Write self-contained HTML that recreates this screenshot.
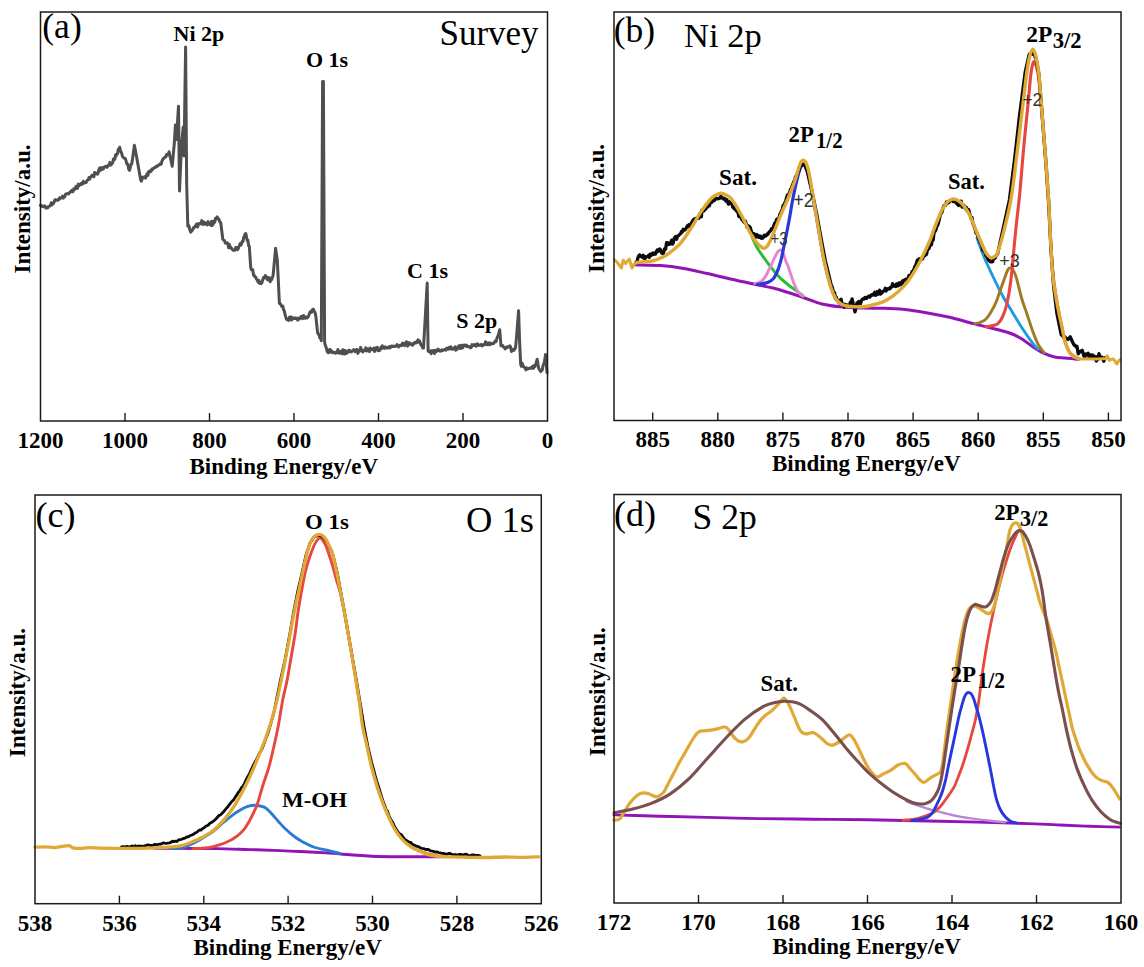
<!DOCTYPE html>
<html><head><meta charset="utf-8"><style>
html,body{margin:0;padding:0;background:#fff;}
svg{display:block;}
</style></head><body>
<svg width="1144" height="967" viewBox="0 0 1144 967">
<rect width="1144" height="967" fill="#fff"/>
<polyline points="40.5,205.3 41.2,205.4 41.9,206.5 42.6,206.1 43.3,206.3 44.0,207.0 44.7,205.9 45.5,206.7 46.2,208.1 46.9,207.3 47.7,207.9 48.4,206.7 49.1,206.4 49.8,206.1 50.5,205.3 51.2,202.8 51.9,205.0 52.6,204.1 53.3,203.6 54.0,202.5 54.7,200.1 55.4,199.6 56.1,200.1 56.8,200.0 57.5,200.4 58.2,199.5 58.9,199.6 59.6,197.9 60.3,198.4 61.0,197.6 61.8,197.6 62.5,196.0 63.3,198.2 64.0,196.5 64.8,196.8 65.5,194.3 66.3,193.8 67.0,193.8 67.8,193.6 68.5,194.0 69.3,193.1 70.0,191.9 70.8,192.0 71.5,190.4 72.3,190.3 73.0,191.6 73.8,188.8 74.5,189.4 75.3,189.0 76.0,186.4 76.8,187.5 77.5,188.3 78.3,184.1 79.0,185.7 79.7,184.9 80.4,184.6 81.2,183.4 81.9,184.3 82.6,183.3 83.3,181.2 84.0,183.3 84.7,182.6 85.4,182.5 86.2,182.5 86.9,180.9 87.6,180.0 88.3,179.6 89.0,177.5 89.7,179.1 90.4,177.3 91.1,176.9 91.8,175.5 92.5,175.3 93.2,175.3 93.9,176.8 94.6,172.6 95.3,172.7 96.0,173.8 96.8,173.4 97.5,174.1 98.3,172.6 99.0,169.2 99.8,167.9 100.5,170.4 101.3,168.6 102.0,167.6 102.8,169.2 103.5,168.7 104.3,166.9 105.0,166.7 105.7,166.5 106.4,166.3 107.1,167.3 107.8,165.8 108.5,165.4 109.2,165.1 109.9,162.4 110.6,165.2 111.3,164.5 112.0,163.6 112.7,162.7 113.4,159.1 114.1,159.2 114.8,159.4 115.5,155.1 116.2,155.7 116.9,153.8 117.6,153.5 118.3,149.2 119.0,150.8 119.7,147.3 120.6,150.9 121.6,153.2 122.5,156.4 123.4,157.5 124.4,158.5 125.3,158.5 126.0,160.6 126.7,163.7 127.4,163.7 128.1,165.9 128.8,169.5 129.5,170.3 130.2,167.9 130.9,164.5 131.6,164.1 132.3,160.6 134.4,145.2 136.5,156.4 140.7,180.1 141.4,181.2 142.1,178.6 142.8,177.0 143.5,177.9 144.2,177.4 144.9,176.7 145.6,178.1 146.3,176.0 147.1,173.9 147.9,175.4 148.7,171.6 149.5,171.1 150.3,171.7 151.1,171.2 151.9,169.0 152.6,169.5 153.3,168.5 154.0,167.9 154.7,167.5 155.4,167.5 156.1,166.3 156.8,166.4 157.5,166.3 158.2,165.2 158.9,164.8 159.7,164.7 160.4,163.5 161.2,164.1 161.9,161.3 162.7,159.5 163.5,158.5 164.2,158.0 165.0,157.0 165.8,157.0 166.6,154.5 167.5,154.3 168.3,154.9 169.1,151.8 172.2,166.3 174.3,143.5 175.4,124.9 176.4,139.4 178.5,106.3 179.5,191.1 181.6,143.5 183.2,127.0 184.0,156.0 185.6,47.0 186.7,185.0 187.8,226.3 188.7,225.4 189.7,229.0 190.6,232.2 191.4,231.4 192.2,230.4 193.0,229.2 193.8,227.3 194.6,227.4 195.4,225.9 196.2,224.5 196.9,223.8 197.6,227.0 198.3,224.6 199.0,223.5 199.7,223.9 200.4,223.6 201.1,223.7 201.8,220.6 202.5,223.0 203.2,224.5 203.9,222.0 204.6,223.1 205.3,224.2 206.0,223.0 206.7,224.1 207.4,224.9 208.1,221.6 208.8,223.2 209.5,223.4 210.2,224.6 210.9,225.3 211.6,221.2 212.3,225.5 213.0,224.5 213.8,221.4 214.7,222.2 215.5,218.2 216.4,218.5 217.2,216.8 217.9,219.2 218.6,218.9 219.3,220.4 220.0,222.2 220.7,222.4 222.8,239.2 223.6,240.1 224.5,240.5 225.3,243.0 226.2,243.2 227.0,242.7 227.8,243.4 228.6,247.7 229.4,244.4 230.2,247.7 231.0,247.4 231.8,248.8 232.6,249.7 233.4,250.4 234.2,249.7 235.0,250.1 235.7,247.6 236.5,247.5 237.3,249.8 238.1,249.0 238.8,246.7 239.5,245.3 240.2,243.5 240.9,245.3 241.6,243.4 242.3,241.3 243.0,241.4 243.7,237.2 244.4,236.7 245.1,233.9 245.8,233.6 246.5,237.0 247.2,240.4 247.9,240.2 248.6,245.4 249.3,246.2 250.7,267.1 251.4,269.8 252.1,270.2 252.8,269.8 253.5,275.2 254.2,275.2 254.9,276.9 255.7,277.1 256.5,279.1 257.3,280.1 258.1,282.1 258.9,280.3 259.7,283.5 260.5,283.2 261.3,283.6 262.1,282.2 262.9,279.2 263.8,277.2 264.6,277.9 265.4,275.5 266.1,276.5 266.8,277.4 267.5,279.8 268.2,278.8 268.9,277.5 269.6,280.5 270.3,281.8 271.0,278.2 271.7,279.6 272.4,277.4 273.1,275.5 275.6,248.3 277.3,260.1 279.4,303.5 280.1,303.4 280.8,304.6 281.5,306.1 282.2,305.8 282.9,306.3 283.6,310.0 284.3,310.7 285.0,314.1 285.7,316.8 286.4,319.2 287.1,319.6 287.9,318.8 288.6,320.4 289.4,317.2 290.1,318.0 290.9,316.9 291.6,320.1 292.4,317.5 293.1,318.7 293.9,318.4 294.6,318.5 295.4,317.8 296.1,318.6 296.9,318.2 297.6,320.1 298.4,318.1 299.1,318.5 299.9,318.9 300.6,317.5 301.3,316.3 302.1,316.9 302.8,318.6 303.6,315.5 304.3,316.6 305.0,318.3 305.8,318.0 306.5,317.0 307.3,317.8 308.0,316.8 308.7,315.9 309.4,313.3 310.1,311.8 310.9,311.7 311.6,312.3 312.3,309.6 313.0,309.1 313.7,309.8 314.4,311.7 315.1,312.6 315.8,316.0 317.6,332.7 318.3,334.2 319.1,334.6 319.8,337.9 320.6,336.5 321.3,340.7 322.6,81.5 323.4,81.5 324.6,342.3 325.5,345.9 326.4,348.1 327.3,352.0 328.0,349.9 328.7,352.8 329.4,351.7 330.1,349.5 330.8,351.0 331.5,352.3 332.2,351.4 332.9,352.8 333.6,352.7 334.4,352.6 335.1,352.2 335.8,353.3 336.5,352.6 337.2,352.3 337.9,349.5 338.6,352.8 339.3,353.3 340.0,351.8 340.7,351.4 341.4,351.2 342.1,353.8 342.9,349.7 343.6,352.0 344.3,354.1 345.0,350.4 345.7,352.1 346.4,353.4 347.1,351.1 347.9,351.8 348.6,352.1 349.3,350.1 350.0,351.0 350.7,351.3 351.4,351.9 352.1,350.9 352.9,350.6 353.6,349.7 354.3,350.3 355.0,351.7 355.7,350.7 356.4,349.6 357.1,349.6 357.9,353.4 358.6,351.7 359.3,351.1 360.0,350.3 360.7,347.4 361.5,350.9 362.2,350.7 362.9,351.9 363.6,350.5 364.4,349.9 365.1,350.5 365.8,347.7 366.5,350.9 367.3,350.1 368.0,348.9 368.7,351.1 369.4,351.6 370.2,348.0 370.9,348.7 371.6,349.7 372.3,349.5 373.1,348.8 373.8,348.2 374.5,351.5 375.2,350.3 376.0,347.7 376.7,349.0 377.4,347.4 378.1,350.7 378.8,349.8 379.5,350.6 380.2,349.4 380.9,347.4 381.6,348.5 382.3,345.8 383.0,347.2 383.7,347.9 384.4,348.4 385.1,346.9 385.8,347.5 386.5,348.0 387.2,347.8 387.9,348.0 388.6,347.4 389.4,346.7 390.1,347.9 390.8,346.9 391.5,345.9 392.2,346.0 392.9,346.6 393.6,346.3 394.3,346.5 395.0,346.2 395.7,346.3 396.4,345.9 397.1,344.5 397.8,346.3 398.5,346.9 399.2,346.1 399.9,345.3 400.6,345.4 401.3,345.8 402.0,344.1 402.7,343.0 403.4,345.0 404.2,343.8 404.9,345.6 405.6,343.5 406.3,341.7 407.0,343.3 407.7,346.1 408.4,343.8 409.1,342.6 409.8,343.2 410.6,344.5 411.3,344.4 412.0,343.9 412.7,345.2 413.4,343.5 414.2,343.7 414.9,342.2 415.7,342.3 416.5,342.9 417.2,341.5 418.0,339.8 418.8,342.1 419.6,341.0 420.4,343.2 421.1,345.3 421.9,345.4 422.7,348.1 423.5,348.1 427.2,283.0 428.1,350.9 428.8,351.6 429.6,351.9 430.3,350.7 431.1,353.7 431.8,350.9 432.5,352.2 433.2,350.5 433.9,350.8 434.6,353.5 435.3,350.2 436.0,351.4 436.7,351.5 437.4,350.3 438.1,349.0 438.8,350.4 439.5,350.5 440.2,351.3 441.0,350.8 441.7,349.9 442.4,350.7 443.1,350.3 443.8,349.9 444.5,349.6 445.2,349.2 445.9,350.2 446.6,348.2 447.3,348.6 448.0,349.2 448.7,347.5 449.4,348.6 450.1,349.0 450.8,346.7 451.5,348.0 452.2,349.3 452.9,349.2 453.6,348.4 454.3,348.1 455.1,346.7 455.8,350.2 456.5,348.6 457.2,349.2 457.9,346.9 458.6,347.6 459.3,345.6 460.0,348.4 460.7,348.5 461.4,345.3 462.1,347.2 462.8,347.8 463.5,345.1 464.3,344.9 465.0,345.6 465.7,346.0 466.4,345.1 467.1,346.5 467.8,346.7 468.5,346.3 469.2,346.9 469.9,346.9 470.6,347.8 471.3,347.3 472.0,344.6 472.8,345.4 473.5,344.7 474.2,344.6 474.9,345.7 475.6,345.7 476.3,346.2 477.0,343.8 477.7,344.1 478.4,345.4 479.1,345.2 479.9,345.0 480.6,345.2 481.3,344.4 482.0,345.9 482.7,345.5 483.4,344.9 484.1,344.2 484.8,344.7 485.5,341.8 486.2,343.7 487.0,344.7 487.7,343.0 488.4,344.8 489.1,344.7 489.8,342.9 490.5,344.4 491.3,343.7 492.1,343.3 492.9,343.7 493.6,343.5 494.4,342.4 495.2,341.1 496.0,341.7 496.7,339.1 497.5,336.8 498.2,335.3 499.0,332.4 499.7,329.7 501.0,345.8 501.8,345.6 502.7,345.6 503.5,347.2 504.4,347.5 505.2,348.9 506.0,347.2 506.7,347.7 507.5,346.8 508.3,346.9 509.0,346.9 509.8,345.8 510.7,346.9 511.5,351.4 512.4,350.4 513.2,349.4 514.0,350.4 514.7,348.7 515.5,347.9 516.5,337.5 518.6,310.7 519.6,341.7 520.7,364.4 521.5,366.3 522.2,363.1 523.0,365.5 523.8,367.0 524.5,367.4 525.2,367.9 526.0,369.9 526.7,367.8 527.4,368.9 528.1,368.4 528.8,368.7 529.6,368.4 530.3,367.7 531.0,368.0 531.8,368.2 532.6,366.2 533.5,368.3 534.3,365.6 535.1,366.4 537.2,359.2 538.7,368.5 540.8,371.6 541.5,370.0 542.2,370.2 543.0,365.8 543.7,364.2 544.4,362.3 545.5,354.6 547.0,372.6" fill="none" stroke="#4f4f4f" stroke-width="3.0" stroke-linejoin="round" stroke-linecap="round" />
<path d="M634.2,264.7 C638.6,264.9 652.3,265.0 660.6,265.6 C668.9,266.2 676.0,267.2 683.8,268.5 C691.5,269.8 699.3,271.8 707.1,273.5 C714.9,275.2 722.6,277.2 730.4,279.0 C738.2,280.8 746.4,282.4 753.7,284.0 C761.0,285.6 766.1,286.2 774.0,288.3 C781.9,290.4 793.3,294.1 801.3,296.7 C809.3,299.3 815.1,302.3 822.0,304.0 C828.9,305.7 835.8,306.4 842.7,307.1 C849.6,307.8 856.5,307.9 863.4,308.1 C870.3,308.3 877.1,308.1 884.0,308.3 C890.9,308.5 897.9,308.8 904.7,309.5 C911.5,310.2 917.3,311.1 924.8,312.4 C932.3,313.7 941.3,315.4 949.6,317.3 C957.9,319.2 966.1,321.7 974.5,323.9 C982.9,326.1 993.9,328.7 1000.0,330.3 C1006.1,331.9 1007.2,332.1 1010.9,333.5 C1014.5,334.9 1018.2,336.8 1021.9,339.0 C1025.5,341.2 1029.2,344.3 1032.8,346.7 C1036.4,349.1 1040.1,351.5 1043.7,353.2 C1047.3,354.9 1050.9,356.2 1054.6,357.0 C1058.2,357.8 1061.6,357.7 1065.6,358.1 C1069.6,358.5 1076.5,359.0 1078.7,359.2" fill="none" stroke="#9314B6" stroke-width="3.0" stroke-linejoin="round" stroke-linecap="round" />
<path d="M752.0,237.0 C752.8,238.8 755.1,244.2 757.0,247.5 C758.9,250.8 761.1,253.7 763.1,256.6 C765.1,259.5 767.2,262.3 769.3,265.0 C771.4,267.7 773.7,270.9 775.5,273.0 C777.3,275.1 778.5,276.3 780.0,277.8 C781.5,279.3 783.2,280.7 784.8,282.0 C786.4,283.3 787.4,284.2 789.5,285.8 C791.6,287.4 795.0,289.8 797.2,291.4 C799.5,293.0 802.0,294.9 803.0,295.6" fill="none" stroke="#22C032" stroke-width="2.9" stroke-linejoin="round" stroke-linecap="round" />
<path d="M755.0,283.6 C755.6,283.4 757.4,282.9 758.5,282.5 C759.6,282.1 760.7,282.1 761.6,281.4 C762.5,280.7 763.2,279.5 764.0,278.5 C764.8,277.5 765.5,276.5 766.2,275.2 C767.0,273.9 767.7,272.1 768.5,270.5 C769.3,268.9 770.1,267.6 770.9,265.9 C771.7,264.2 772.4,262.2 773.2,260.5 C774.0,258.8 774.7,257.4 775.5,255.9 C776.3,254.4 777.1,252.5 778.0,251.5 C778.9,250.5 779.9,249.8 780.7,250.0 C781.5,250.2 782.4,251.5 783.0,252.5 C783.6,253.5 783.7,254.5 784.2,256.0 C784.7,257.5 785.4,259.9 786.0,261.5 C786.6,263.1 787.3,264.1 788.0,265.9 C788.7,267.6 789.1,269.4 790.0,272.0 C790.9,274.6 792.1,278.5 793.1,281.2 C794.1,283.9 795.0,285.9 796.0,288.0 C797.0,290.1 798.1,292.3 799.3,293.6 C800.5,294.9 802.4,295.6 803.0,296.0" fill="none" stroke="#E884C8" stroke-width="2.9" stroke-linejoin="round" stroke-linecap="round" />
<path d="M757.0,284.5 C758.0,284.4 761.4,283.9 763.1,283.6 C764.9,283.3 766.2,283.0 767.5,282.5 C768.8,282.0 769.9,281.5 770.9,280.8 C771.9,280.1 772.7,279.4 773.5,278.5 C774.3,277.6 774.8,276.4 775.5,275.2 C776.2,273.9 776.9,272.6 777.5,271.0 C778.1,269.4 778.6,268.1 779.3,265.9 C780.0,263.7 780.6,262.0 781.5,258.0 C782.4,254.0 783.5,248.3 784.8,242.0 C786.1,235.7 787.8,227.4 789.1,220.2 C790.5,212.9 791.6,205.0 792.9,198.5 C794.2,192.0 795.5,185.9 796.7,181.0 C797.9,176.1 799.0,171.7 800.0,169.0 C801.0,166.3 801.9,165.1 802.7,164.6 C803.5,164.1 804.2,164.9 804.9,166.0 C805.6,167.1 806.3,169.2 807.0,171.0 C807.7,172.8 808.2,173.8 809.0,177.0 C809.8,180.2 810.4,184.0 811.5,190.0 C812.6,196.0 814.4,205.0 815.8,213.0 C817.2,221.0 818.6,230.2 820.0,238.0 C821.4,245.8 822.3,252.3 824.0,260.0 C825.7,267.7 828.0,277.5 830.0,284.0 C832.0,290.5 834.0,295.4 836.0,299.0 C838.0,302.6 841.0,304.4 842.0,305.5" fill="none" stroke="#2838E0" stroke-width="3.2" stroke-linejoin="round" stroke-linecap="round" />
<path d="M977.0,238.0 C978.2,241.3 981.8,251.5 984.4,257.8 C987.0,264.1 989.7,269.7 992.7,276.0 C995.7,282.3 999.3,289.7 1002.6,295.8 C1005.9,301.9 1009.2,306.9 1012.5,312.4 C1015.8,317.8 1019.0,323.3 1022.4,328.5 C1025.8,333.7 1030.2,340.0 1032.8,343.4 C1035.4,346.8 1037.1,348.1 1038.0,349.0" fill="none" stroke="#1E9BE0" stroke-width="2.9" stroke-linejoin="round" stroke-linecap="round" />
<path d="M975.0,323.6 C975.8,323.4 978.2,323.3 980.0,322.5 C981.8,321.7 984.2,320.8 986.0,319.0 C987.8,317.2 989.3,314.8 991.0,312.0 C992.7,309.2 994.5,305.9 996.0,302.4 C997.5,298.9 998.6,294.9 1000.0,291.0 C1001.4,287.1 1003.0,282.7 1004.2,279.3 C1005.5,275.9 1006.5,272.4 1007.5,270.5 C1008.5,268.6 1009.2,267.9 1010.0,267.7 C1010.8,267.4 1011.5,267.6 1012.5,269.0 C1013.5,270.4 1014.7,272.8 1015.8,276.0 C1016.9,279.2 1017.9,283.9 1019.0,288.0 C1020.1,292.1 1021.0,296.3 1022.4,300.8 C1023.8,305.3 1025.6,309.9 1027.3,315.0 C1029.0,320.1 1031.0,326.5 1032.8,331.4 C1034.6,336.3 1036.3,341.0 1038.2,344.5 C1040.1,348.0 1043.0,351.2 1044.0,352.5" fill="none" stroke="#A07A22" stroke-width="2.9" stroke-linejoin="round" stroke-linecap="round" />
<path d="M986.0,326.8 C987.2,326.6 991.1,326.0 993.0,325.5 C994.9,325.0 996.1,325.1 997.6,323.8 C999.1,322.6 1000.5,321.1 1002.0,318.0 C1003.5,314.9 1005.1,311.3 1006.6,305.0 C1008.1,298.7 1009.4,292.6 1010.9,280.0 C1012.4,267.4 1014.3,243.8 1015.8,229.6 C1017.2,215.4 1018.2,209.2 1019.6,195.0 C1021.0,180.8 1022.5,160.1 1024.0,144.3 C1025.5,128.5 1027.2,112.2 1028.4,100.3 C1029.6,88.4 1030.1,79.4 1031.0,73.0 C1031.9,66.6 1032.7,63.2 1033.6,62.0 C1034.5,60.8 1035.3,63.0 1036.2,66.0 C1037.1,69.0 1037.9,71.0 1038.9,80.0 C1039.9,89.0 1041.2,105.8 1042.4,120.0 C1043.6,134.2 1044.8,149.7 1045.9,165.0 C1047.0,180.3 1047.9,194.5 1049.0,212.0 C1050.1,229.5 1051.3,255.3 1052.6,270.0 C1053.9,284.7 1055.2,291.2 1056.6,300.0 C1058.0,308.8 1059.5,316.0 1061.0,323.0 C1062.5,330.0 1063.7,336.9 1065.3,342.0 C1066.9,347.1 1068.4,350.8 1070.5,353.5 C1072.6,356.2 1076.8,357.7 1078.0,358.5" fill="none" stroke="#E8473F" stroke-width="3.1" stroke-linejoin="round" stroke-linecap="round" />
<polyline points="636.2,262.0 637.1,261.4 637.9,257.8 638.8,255.7 639.7,254.8 640.6,256.3 641.4,256.8 642.3,257.1 643.2,255.3 644.1,258.7 644.9,258.7 645.8,256.7 646.7,256.8 647.6,256.7 648.5,255.4 649.3,257.4 650.2,254.2 651.1,255.6 652.0,253.7 652.8,253.0 653.7,254.4 654.6,253.1 655.5,254.1 656.3,251.7 657.2,250.1 658.1,251.4 658.9,249.5 659.8,248.9 660.7,250.4 661.6,253.0 662.6,253.5 663.5,253.1 664.5,248.9 665.6,249.1 666.6,242.6 667.5,243.0 668.3,244.4 669.1,243.0 670.0,244.2 670.8,243.3 671.6,240.3 672.5,244.1 673.3,242.7 674.1,238.5 674.9,237.4 675.8,236.4 676.6,239.2 677.4,236.3 678.2,236.0 679.1,234.8 679.9,234.3 680.7,233.6 681.5,231.4 682.3,232.0 683.2,229.3 684.0,230.2 684.8,229.9 685.6,229.3 686.5,227.6 687.3,225.9 688.1,226.4 688.9,224.8 689.8,226.6 690.6,224.8 691.4,222.8 692.2,221.5 693.1,220.4 693.9,219.3 694.7,219.7 695.5,218.4 696.4,218.4 697.2,217.9 698.0,217.1 698.8,218.3 699.7,213.8 700.5,213.9 701.3,216.7 702.1,209.8 703.0,210.7 703.8,210.8 704.6,209.9 705.4,209.4 706.3,207.7 707.1,207.2 707.9,206.8 708.7,205.6 709.5,205.7 710.3,201.4 711.1,201.9 712.0,202.2 712.8,200.0 713.6,199.2 714.4,200.5 715.2,198.0 716.0,198.0 716.8,198.8 717.6,198.9 718.5,198.4 719.3,198.6 720.1,197.8 721.0,196.1 721.8,197.9 722.6,197.9 723.4,199.1 724.3,198.3 725.1,199.5 726.0,201.1 726.8,199.6 727.7,202.1 728.5,204.3 729.4,201.7 730.2,203.2 731.1,203.3 731.9,204.1 732.8,207.4 733.6,207.1 734.5,209.1 735.3,208.3 736.2,210.4 737.0,211.7 737.9,210.7 738.7,216.2 739.6,216.7 740.4,214.6 741.3,218.1 742.1,220.1 743.0,220.0 743.8,221.8 744.6,222.7 745.4,221.3 746.3,224.0 747.1,227.3 747.9,225.6 748.7,226.1 749.6,226.7 750.4,227.9 751.2,230.9 752.0,233.7 752.9,233.1 753.7,233.6 754.6,234.4 755.4,237.5 756.3,234.5 757.1,234.8 758.0,236.9 758.8,237.4 759.7,235.9 760.5,236.3 761.4,238.3 762.3,238.2 763.2,237.7 764.2,235.2 765.1,236.2 766.0,236.0 766.9,234.2 767.9,234.4 768.8,232.5 769.8,231.5 770.7,230.5 771.5,228.7 772.4,229.1 773.2,228.2 774.0,225.0 774.8,223.0 775.7,223.1 776.5,219.5 777.4,219.1 778.2,218.5 779.0,218.0 779.9,214.0 780.7,213.0 781.5,211.0 782.3,209.5 783.2,205.4 784.0,205.4 784.8,202.6 785.6,202.1 786.4,198.2 787.3,195.2 788.1,195.9 788.9,194.0 789.7,192.3 790.5,189.3 791.4,189.2 792.2,185.6 793.0,184.0 793.8,181.5 794.6,181.1 795.5,176.7 796.3,177.0 797.2,173.6 798.0,172.0 798.9,170.6 799.8,167.0 800.7,165.8 801.6,165.4 802.5,164.0 804.8,165.0 807.0,170.0 809.2,180.0 811.7,190.0 816.5,213.0 821.0,237.8 825.3,260.6 831.3,285.4 832.1,286.6 832.9,289.9 833.7,293.7 834.6,292.7 835.4,298.8 836.2,296.9 837.0,299.8 837.8,300.3 838.6,300.9 839.5,302.4 840.3,299.9 841.1,299.2 841.9,303.2 842.7,303.9 843.5,304.1 844.3,307.1 845.2,304.4 846.0,304.9 846.8,305.0 847.7,305.9 848.6,304.9 849.5,306.3 850.3,302.2 851.2,303.1 852.1,298.8 853.0,303.0 855.0,312.0 857.0,302.9 857.9,303.5 858.8,301.4 859.6,302.6 860.5,303.8 861.4,300.5 862.2,299.6 863.1,298.8 864.0,299.0 864.8,297.5 865.7,297.3 866.5,298.5 867.4,297.2 868.2,296.8 869.0,296.1 869.9,297.0 870.7,296.0 871.6,294.8 872.4,294.5 873.2,295.1 874.0,293.8 874.8,292.3 875.6,295.4 876.4,293.9 877.2,291.8 878.1,294.2 878.9,293.0 879.7,290.3 880.5,294.2 881.3,292.3 882.1,292.8 882.9,291.4 883.7,291.2 884.5,290.4 885.3,288.2 886.1,291.0 886.9,289.4 887.7,288.6 888.6,289.0 889.4,288.2 890.2,288.6 891.0,286.8 891.8,286.9 892.6,283.7 893.4,286.1 894.2,285.1 895.0,286.2 895.8,286.6 896.6,284.0 897.4,283.9 898.2,285.8 899.1,282.9 899.9,283.9 900.7,284.7 901.5,282.2 902.3,283.3 903.1,280.4 903.9,280.9 904.7,280.5 905.5,279.4 906.4,278.9 907.2,279.6 908.0,280.5 908.8,275.8 909.7,275.3 910.5,275.9 911.3,274.6 912.2,271.3 913.0,271.4 913.9,269.5 914.8,266.5 915.6,265.6 916.5,263.0 917.3,260.3 918.2,262.5 919.0,258.8 919.9,259.2 920.7,258.6 921.5,258.1 922.4,259.0 923.2,257.3 924.1,255.9 924.9,255.7 925.7,254.7 926.5,254.3 927.3,250.5 928.1,249.2 929.0,248.6 929.8,245.6 930.6,241.8 931.4,245.0 932.2,240.0 933.2,240.1 934.1,231.8 935.1,231.5 936.0,229.3 937.0,226.0 937.9,224.7 938.7,221.7 939.6,217.9 940.4,214.3 941.3,213.3 942.1,211.9 943.0,208.0 943.9,205.7 944.8,204.9 945.6,205.3 946.5,202.0 947.4,203.3 948.2,202.2 949.1,202.5 950.0,201.0 950.8,200.3 951.7,200.2 952.5,201.0 953.3,201.6 954.2,201.0 955.0,202.0 955.9,202.3 956.8,203.6 957.6,204.5 958.5,205.5 959.4,202.6 960.3,203.5 961.1,201.1 962.0,207.1 962.9,205.0 963.7,205.1 964.5,207.0 965.4,208.7 966.2,207.2 967.0,210.6 967.9,211.0 968.7,209.6 969.5,213.0 970.3,215.7 971.2,219.2 972.0,217.5 972.8,223.2 973.6,224.8 974.5,227.4 975.3,229.7 976.1,233.1 977.0,233.4 977.8,236.0 978.6,239.1 979.4,239.5 980.3,242.9 981.1,242.9 981.9,245.9 982.7,250.3 983.5,250.6 984.4,251.8 985.2,252.5 986.0,256.0 986.8,256.0 987.7,258.2 988.5,260.2 989.3,260.5 990.2,261.6 991.0,261.9 991.8,260.9 992.6,261.7 993.5,258.4 994.3,257.2 995.1,258.1 996.0,256.1 996.8,254.6 997.6,254.0 1002.8,230.0 1009.4,200.0 1014.5,160.0 1019.6,115.0 1025.2,72.0 1029.0,55.0 1029.9,53.6 1030.8,53.4 1031.6,53.9 1032.5,52.5 1033.4,54.3 1034.2,53.7 1035.1,57.2 1036.0,58.0 1038.9,74.0 1042.4,117.9 1045.9,161.9 1048.6,200.0 1051.0,250.0 1053.5,285.0 1056.8,312.8 1061.2,334.6 1062.1,335.5 1063.0,334.6 1063.9,337.5 1064.8,336.8 1065.7,337.8 1068.0,339.5 1070.2,336.7 1072.5,342.0 1074.2,345.2 1075.1,345.2 1076.1,347.0 1077.0,346.4 1078.2,353.8 1080.2,351.5 1082.2,350.3 1083.9,356.0 1084.8,357.2 1085.6,354.0 1086.5,354.9 1087.3,353.8 1088.2,353.2 1089.1,357.9 1090.0,355.5 1090.8,355.0 1091.6,357.3 1092.5,355.0 1093.3,357.0 1094.1,356.0 1096.4,361.0 1097.0,356.6 1098.0,359.6 1099.0,353.6 1100.0,357.0 1102.0,357.2 1103.8,361.2 1104.9,357.6" fill="none" stroke="#0b0b0b" stroke-width="3.3" stroke-linejoin="round" stroke-linecap="round" />
<path d="M637.0,262.5 C637.8,262.4 639.0,262.2 641.5,262.0 C644.0,261.8 648.5,261.8 652.0,261.0 C655.5,260.2 659.4,258.7 662.4,257.3 C665.4,255.9 667.0,255.0 670.0,252.6 C673.0,250.2 677.1,247.2 680.7,243.0 C684.3,238.8 688.2,232.6 691.6,227.4 C695.0,222.2 697.8,216.6 700.9,211.9 C704.0,207.2 707.7,202.3 710.2,199.5 C712.7,196.7 714.2,196.0 716.0,195.0 C717.8,194.0 719.4,193.3 721.1,193.3 C722.8,193.3 724.2,194.0 726.0,195.0 C727.8,196.0 729.4,196.2 731.9,199.5 C734.4,202.8 738.2,209.3 741.3,215.0 C744.4,220.7 747.8,228.7 750.6,233.6 C753.4,238.5 756.0,242.1 758.3,244.5 C760.6,246.9 762.7,248.2 764.3,248.3 C765.9,248.4 766.6,247.1 768.0,245.0 C769.4,242.9 770.3,240.8 772.4,235.8 C774.5,230.8 778.0,221.7 780.7,215.1 C783.5,208.5 786.5,202.3 788.9,196.5 C791.3,190.7 793.2,185.5 795.1,180.0 C797.0,174.5 798.9,166.7 800.3,163.4 C801.7,160.1 802.4,160.2 803.4,160.3 C804.4,160.4 805.6,161.9 806.5,164.0 C807.4,166.1 808.1,169.0 809.0,173.0 C809.9,177.0 810.6,181.5 811.7,188.2 C812.8,194.9 814.4,204.7 815.8,213.0 C817.2,221.3 818.6,229.9 820.0,237.8 C821.4,245.7 822.4,252.7 824.1,260.6 C825.8,268.5 828.4,279.0 830.3,285.4 C832.2,291.8 833.9,295.6 835.7,298.7 C837.5,301.8 839.1,302.8 841.0,304.0 C842.9,305.2 844.3,305.5 846.8,306.0 C849.3,306.5 853.2,306.7 856.0,306.8 C858.8,306.9 860.7,307.1 863.4,306.8 C866.1,306.5 869.1,305.8 872.4,305.0 C875.6,304.2 879.4,303.5 882.9,301.9 C886.4,300.3 889.9,298.2 893.4,295.6 C896.9,293.0 901.2,288.9 903.9,286.1 C906.6,283.3 907.8,281.4 909.5,279.0 C911.2,276.6 912.9,274.0 914.4,271.5 C915.9,269.0 917.4,266.4 918.8,263.8 C920.2,261.2 921.5,258.3 922.8,255.7 C924.1,253.1 925.3,250.6 926.5,248.0 C927.7,245.4 928.9,242.9 930.1,240.0 C931.3,237.1 932.2,234.0 933.5,230.5 C934.8,227.0 936.4,222.7 938.0,219.0 C939.6,215.3 941.3,211.0 943.0,208.1 C944.7,205.2 946.4,203.0 948.0,201.5 C949.6,200.0 951.2,199.2 952.9,199.0 C954.6,198.8 956.3,199.5 958.0,200.5 C959.7,201.5 961.0,202.4 962.9,204.8 C964.8,207.2 967.0,209.7 969.5,214.7 C972.0,219.7 975.0,228.2 977.8,234.6 C980.5,240.9 983.8,248.9 986.0,252.8 C988.2,256.7 989.6,257.2 991.0,257.8 C992.4,258.4 993.4,257.3 994.5,256.5 C995.6,255.7 996.0,257.3 997.6,252.8 C999.2,248.3 1002.0,238.4 1004.2,229.6 C1006.4,220.8 1008.9,211.2 1010.9,199.9 C1012.9,188.6 1014.3,175.6 1016.0,161.9 C1017.7,148.2 1019.5,132.6 1021.3,117.9 C1023.1,103.2 1025.2,84.2 1026.6,74.0 C1028.0,63.9 1028.5,61.1 1029.5,57.0 C1030.5,52.9 1031.7,49.5 1032.7,49.3 C1033.8,49.1 1034.8,51.9 1035.8,56.0 C1036.8,60.1 1037.8,63.7 1038.9,74.0 C1040.0,84.3 1041.2,103.2 1042.4,117.9 C1043.6,132.6 1044.9,148.2 1045.9,161.9 C1046.9,175.6 1047.8,187.0 1048.6,200.0 C1049.4,213.0 1049.9,227.5 1050.6,240.0 C1051.3,252.5 1051.8,264.7 1052.8,275.0 C1053.8,285.3 1055.4,293.9 1056.8,302.0 C1058.2,310.1 1059.7,316.8 1061.2,323.7 C1062.7,330.6 1064.0,338.3 1065.6,343.4 C1067.2,348.5 1068.8,351.8 1071.0,354.3 C1073.2,356.9 1077.4,358.0 1078.7,358.7" fill="none" stroke="#E0A935" stroke-width="3.4" stroke-linejoin="round" stroke-linecap="round" />
<polyline points="1078.7,358.7 1082.7,358.9 1090.0,359.0 1098.0,359.0 1105.5,358.6 1107.2,355.8 1109.4,360.4 1111.5,359.2 1113.4,358.9 1115.2,361.5 1116.8,364.0 1118.5,361.0 1120.4,359.4" fill="none" stroke="#E0A935" stroke-width="3.0" stroke-linejoin="round" stroke-linecap="round" />
<polyline points="614.3,259.5 617.3,262.5 619.5,265.5 621.5,268.0 623.1,260.2 625.7,263.6 627.5,261.0 629.4,259.2 632.0,268.0 634.6,263.6 637.0,262.5" fill="none" stroke="#E0A935" stroke-width="3.0" stroke-linejoin="round" stroke-linecap="round" />
<path d="M155.0,848.3 C159.2,848.3 169.7,848.3 180.0,848.4 C190.3,848.5 205.1,848.4 216.8,848.6 C228.5,848.8 239.5,849.3 250.0,849.6 C260.5,849.9 271.7,850.3 280.0,850.6 C288.3,850.9 292.4,851.1 300.0,851.5 C307.6,851.9 317.5,852.4 325.8,852.9 C334.1,853.4 342.4,854.2 350.0,854.8 C357.6,855.3 363.3,855.9 371.6,856.2 C379.9,856.5 388.6,856.6 400.0,856.7 C411.4,856.8 433.6,856.8 440.3,856.8" fill="none" stroke="#9314B6" stroke-width="2.9" stroke-linejoin="round" stroke-linecap="round" />
<path d="M172.0,848.6 C173.3,848.5 177.5,848.2 180.0,847.8 C182.5,847.4 184.8,846.7 187.0,846.0 C189.2,845.3 191.1,844.4 193.0,843.5 C194.9,842.6 196.6,841.7 198.6,840.5 C200.6,839.3 202.6,838.0 205.0,836.5 C207.4,835.0 209.8,833.8 212.9,831.5 C216.0,829.2 219.9,825.4 223.4,822.5 C226.9,819.6 231.2,816.1 233.9,814.1 C236.6,812.1 237.8,811.5 239.5,810.5 C241.2,809.5 242.7,808.6 244.4,807.8 C246.1,807.0 247.8,806.3 249.5,805.9 C251.2,805.5 253.2,805.2 254.9,805.2 C256.6,805.2 258.2,805.6 260.0,806.0 C261.8,806.4 263.5,806.5 265.4,807.8 C267.3,809.0 269.3,811.3 271.4,813.5 C273.5,815.7 275.7,818.5 278.0,821.0 C280.3,823.5 282.2,825.8 285.0,828.5 C287.8,831.2 292.0,834.8 295.0,837.0 C298.0,839.2 299.6,840.2 302.9,842.0 C306.2,843.8 311.2,846.2 315.0,847.5 C318.8,848.8 321.6,849.0 325.8,850.0 C330.0,851.0 337.6,852.9 340.0,853.5" fill="none" stroke="#2B7BD3" stroke-width="2.9" stroke-linejoin="round" stroke-linecap="round" />
<path d="M193.0,848.6 C195.0,848.5 201.5,848.4 205.0,848.0 C208.5,847.6 210.9,847.0 214.0,846.3 C217.1,845.5 220.9,844.4 223.4,843.5 C225.9,842.6 227.2,841.9 229.0,841.0 C230.8,840.1 232.2,839.3 233.9,838.2 C235.6,837.1 237.2,836.1 239.0,834.5 C240.8,832.9 242.6,831.1 244.4,828.8 C246.2,826.4 247.9,823.5 249.7,820.4 C251.4,817.2 253.6,812.8 254.9,809.9 C256.2,807.0 256.3,807.1 257.7,803.0 C259.1,798.9 261.1,791.1 263.0,785.0 C264.9,778.9 267.3,772.9 269.1,766.4 C270.9,759.9 272.4,752.8 274.0,746.0 C275.6,739.2 276.9,733.2 278.4,725.5 C279.8,717.8 281.3,707.4 282.7,700.0 C284.1,692.6 285.5,688.3 286.9,681.3 C288.3,674.3 289.6,665.9 291.0,658.0 C292.4,650.1 293.9,641.5 295.1,633.8 C296.3,626.1 297.0,618.9 298.0,612.0 C299.0,605.1 300.1,599.2 301.3,592.4 C302.6,585.6 304.1,576.9 305.5,571.0 C306.9,565.1 308.4,561.0 309.6,557.2 C310.9,553.4 311.9,550.7 313.0,548.0 C314.1,545.3 315.4,542.6 316.5,541.0 C317.6,539.4 318.5,538.4 319.5,538.2 C320.5,538.0 321.4,538.7 322.5,540.0 C323.6,541.3 324.8,543.3 326.0,546.0 C327.2,548.7 328.4,552.8 329.5,556.0 C330.6,559.2 331.2,561.0 332.4,565.0 C333.6,569.0 335.1,575.2 336.5,580.0 C337.9,584.8 339.2,588.3 340.6,594.0 C342.0,599.7 343.3,606.7 344.7,614.0 C346.1,621.3 347.6,630.5 348.9,638.0 C350.2,645.5 351.3,651.8 352.5,659.0 C353.7,666.2 355.0,674.3 356.1,681.3 C357.2,688.3 358.2,694.8 359.3,701.0 C360.4,707.2 361.4,712.8 362.4,718.6 C363.4,724.4 364.5,730.4 365.5,736.0 C366.5,741.6 367.5,747.0 368.5,752.0 C369.5,757.0 370.2,760.3 371.6,766.0 C373.0,771.7 375.1,779.7 377.0,786.0 C378.9,792.3 381.2,798.7 383.1,803.7 C385.0,808.7 386.6,812.0 388.5,816.0 C390.4,820.0 392.4,824.4 394.5,828.0 C396.6,831.6 398.7,834.8 401.0,837.5 C403.3,840.2 405.8,842.5 408.3,844.5 C410.8,846.5 412.9,848.0 416.0,849.5 C419.1,851.0 422.6,852.4 426.6,853.5 C430.6,854.6 437.8,855.8 440.0,856.3" fill="none" stroke="#E8473F" stroke-width="2.9" stroke-linejoin="round" stroke-linecap="round" />
<polyline points="121.4,846.8 123.0,846.6 124.5,846.9 126.1,846.6 127.6,846.4 129.2,847.3 130.7,846.5 132.2,845.9 133.8,846.7 135.3,845.7 136.9,846.7 138.4,846.0 140.0,846.2 141.7,846.1 143.3,846.3 145.0,845.8 146.7,845.1 148.3,844.9 150.0,845.3 151.7,845.5 153.3,845.1 155.0,844.4 156.7,844.7 158.3,844.4 160.0,844.0 161.6,844.0 163.1,842.8 164.7,843.2 166.3,843.4 167.9,843.1 169.4,842.9 171.0,842.4 172.5,841.1 174.0,841.6 175.5,841.2 177.0,841.5 178.5,839.9 180.0,839.6 181.5,839.3 183.2,838.6 185.0,838.2 186.7,837.0 188.4,836.9 190.2,835.5 191.9,835.1 193.4,834.3 194.9,833.1 196.4,832.5 197.9,831.3 199.4,830.0 200.9,830.1 202.4,828.8 203.9,827.9 205.4,826.5 206.9,825.7 208.4,825.0 209.9,823.2 211.4,822.5 212.9,821.5 214.4,820.3 215.9,819.0 217.4,817.3 218.9,815.3 220.4,815.1 221.9,813.5 223.4,812.0 224.9,810.2 226.4,808.3 227.9,806.7 229.4,804.7 230.9,802.6 232.4,800.9 233.9,799.4 235.4,796.9 236.9,794.7 238.4,792.2 239.9,790.6 241.4,787.7 242.9,786.1 244.4,783.6 246.1,779.7 247.8,776.7 249.6,773.5 251.3,769.6 253.0,766.0 254.6,762.8 256.1,760.1 257.6,757.2 259.2,753.5 260.8,751.0 262.3,748.2 264.2,743.2 266.1,737.9 268.0,733.0 269.5,727.8 271.0,722.8 272.5,717.5 274.0,712.0 280.5,680.0 285.0,660.0 290.0,633.0 294.0,610.0 298.0,590.0 302.0,573.0 306.0,555.0 308.0,549.3 310.0,543.0 312.0,540.2 314.0,537.0 315.5,536.3 317.0,535.8 318.5,535.2 320.5,535.8 322.5,536.5 324.5,538.6 326.5,541.0 328.2,544.4 330.0,548.0 331.8,551.9 333.5,557.0 337.5,574.0 341.5,596.0 345.5,618.0 349.5,641.0 353.5,664.0 357.0,684.0 360.5,705.0 364.0,727.0 368.0,747.0 372.0,764.0 373.7,769.9 375.3,776.0 377.0,782.0 378.5,786.4 380.0,791.5 381.5,796.4 383.0,801.0 384.5,804.7 386.0,809.2 387.5,811.3 389.0,816.0 390.8,819.4 392.7,822.4 394.5,826.5 396.3,829.3 398.2,832.4 400.0,834.0 401.5,834.7 403.0,837.2 404.5,838.9 406.0,840.3 407.6,841.1 409.2,842.4 410.8,842.3 412.4,844.4 414.0,845.0 415.6,845.8 417.2,846.3 418.8,846.8 420.4,847.9 422.0,848.3 423.6,848.6 425.2,849.3 426.8,849.5 428.4,849.4 430.0,850.6 431.7,851.0 433.4,851.4 435.1,852.0 436.9,851.8 438.6,852.5 440.3,852.9 441.9,853.3 443.6,853.3 445.2,853.9 446.8,854.3 448.5,853.5 450.1,853.3 451.7,854.4 453.4,854.9 455.0,854.5 456.5,854.9 458.0,854.9 459.5,854.4 461.1,854.5 462.6,855.1 464.1,854.5 465.6,854.2 467.1,854.6 468.6,855.9 470.2,855.7 471.7,854.9 473.2,854.9 474.7,855.2 476.5,855.5 478.2,855.3 480.0,855.8" fill="none" stroke="#0b0b0b" stroke-width="2.8" stroke-linejoin="round" stroke-linecap="round" />
<path d="M35.0,847.2 C36.7,847.1 41.7,846.7 45.0,846.8 C48.3,846.9 52.2,847.7 55.0,847.6 C57.8,847.5 59.6,846.7 62.0,846.4 C64.3,846.1 67.3,845.4 69.1,845.6 C70.9,845.8 71.2,847.3 73.0,847.8 C74.8,848.3 77.2,848.4 80.0,848.4 C82.8,848.4 86.1,847.6 90.0,847.6 C93.9,847.6 97.4,848.1 103.2,848.2 C109.0,848.3 117.4,848.4 125.0,848.4 C132.6,848.4 141.9,848.4 148.6,848.2 C155.3,848.0 159.5,847.8 165.0,847.4 C170.5,847.0 176.8,846.6 181.5,845.6 C186.2,844.6 189.5,842.9 193.0,841.5 C196.5,840.1 199.1,839.0 202.4,837.2 C205.7,835.4 209.4,833.7 212.9,830.9 C216.4,828.1 219.9,824.4 223.4,820.4 C226.9,816.4 230.4,812.1 233.9,806.7 C237.4,801.3 241.2,793.9 244.4,787.8 C247.6,781.7 250.2,775.9 252.8,770.0 C255.4,764.1 257.8,758.2 260.0,752.7 C262.2,747.2 264.1,742.3 266.0,737.0 C267.9,731.7 269.6,727.1 271.4,720.9 C273.2,714.7 275.1,708.0 277.0,700.0 C278.9,692.0 281.0,681.2 282.7,673.0 C284.4,664.8 285.6,658.2 287.0,651.0 C288.4,643.8 289.7,636.8 291.0,629.6 C292.3,622.4 293.6,614.9 295.0,608.0 C296.4,601.1 298.0,594.5 299.3,588.3 C300.6,582.1 301.6,577.2 303.0,571.0 C304.4,564.8 306.2,556.0 307.5,551.0 C308.8,546.0 309.8,543.5 311.0,541.0 C312.2,538.5 313.7,537.1 315.0,536.0 C316.3,534.9 317.6,534.4 318.9,534.3 C320.1,534.2 321.3,534.6 322.5,535.5 C323.7,536.4 324.9,537.8 326.0,539.5 C327.1,541.2 327.9,543.2 329.0,545.5 C330.1,547.8 331.1,548.9 332.4,553.1 C333.6,557.4 335.1,564.5 336.5,571.0 C337.9,577.5 339.2,585.2 340.6,592.4 C342.0,599.6 343.3,606.4 344.7,614.0 C346.1,621.6 347.6,630.4 348.9,637.9 C350.2,645.4 351.3,651.8 352.5,659.0 C353.7,666.2 355.0,674.3 356.1,681.3 C357.2,688.3 358.2,693.6 359.3,701.0 C360.4,708.4 361.2,718.3 362.5,725.8 C363.8,733.3 365.5,739.1 367.0,746.0 C368.5,752.9 369.9,760.3 371.6,767.0 C373.3,773.7 375.1,779.9 377.0,786.0 C378.9,792.1 381.2,798.6 383.1,803.7 C385.0,808.8 386.6,812.3 388.5,816.5 C390.4,820.7 392.4,825.3 394.5,828.9 C396.6,832.5 398.7,835.3 401.0,838.0 C403.3,840.7 405.8,843.0 408.3,844.9 C410.8,846.8 412.9,848.0 416.0,849.5 C419.1,851.0 422.6,852.9 426.6,854.1 C430.6,855.3 435.8,856.0 440.0,856.5 C444.2,857.0 446.8,856.7 451.8,856.8 C456.8,856.9 464.3,857.2 470.0,857.3 C475.7,857.4 480.3,857.5 486.1,857.5 C491.9,857.5 499.4,857.0 505.0,857.0 C510.6,857.0 514.4,857.3 520.0,857.3 C525.6,857.3 535.7,856.9 538.8,856.8" fill="none" stroke="#E0A935" stroke-width="3.3" stroke-linejoin="round" stroke-linecap="round" />
<path d="M614.0,814.9 C621.7,815.1 644.5,815.8 660.0,816.2 C675.5,816.6 690.4,817.0 707.1,817.4 C723.8,817.8 742.2,818.3 760.0,818.6 C777.8,818.9 796.0,819.0 814.0,819.2 C832.0,819.4 847.3,819.5 868.3,819.8 C889.3,820.1 913.4,820.6 940.0,821.2 C966.6,821.8 1007.9,823.0 1027.9,823.6 C1047.9,824.2 1049.7,824.5 1060.0,825.0 C1070.3,825.5 1080.1,825.9 1090.0,826.3 C1099.9,826.6 1114.5,827.0 1119.4,827.1" fill="none" stroke="#9314B6" stroke-width="2.9" stroke-linejoin="round" stroke-linecap="round" />
<path d="M906.0,801.0 C907.0,801.4 909.3,802.6 912.0,803.6 C914.7,804.6 917.9,805.5 922.0,806.8 C926.1,808.1 931.8,809.9 936.5,811.2 C941.2,812.5 946.1,813.6 950.0,814.5 C953.9,815.4 956.2,815.9 960.0,816.6 C963.8,817.3 968.0,817.9 973.0,818.6 C978.0,819.3 984.7,820.2 990.0,820.8 C995.3,821.4 1002.5,822.0 1005.0,822.2" fill="none" stroke="#B689D6" stroke-width="2.4" stroke-linejoin="round" stroke-linecap="round" />
<path d="M903.0,820.3 C904.2,820.2 907.8,820.0 910.0,819.7 C912.2,819.5 913.8,819.3 916.0,818.8 C918.2,818.3 920.5,817.6 923.0,816.8 C925.5,816.0 928.8,814.8 931.0,813.8 C933.2,812.8 934.5,811.8 936.0,810.6 C937.5,809.4 938.8,808.3 940.3,806.6 C941.8,804.9 943.5,802.6 945.0,800.5 C946.5,798.4 948.0,796.4 949.6,794.0 C951.2,791.6 953.1,788.8 954.4,786.3 C955.7,783.8 956.2,782.1 957.4,779.2 C958.5,776.3 960.0,772.6 961.3,769.0 C962.6,765.4 963.8,761.7 965.1,757.5 C966.4,753.3 967.7,748.6 969.0,744.0 C970.3,739.4 971.8,733.7 972.9,729.6 C974.0,725.5 974.6,723.8 975.5,719.5 C976.4,715.2 977.4,709.6 978.3,704.0 C979.2,698.4 979.9,692.0 980.7,686.0 C981.5,680.0 982.3,673.6 983.1,668.1 C983.9,662.6 984.7,657.8 985.5,653.0 C986.3,648.2 986.9,644.1 987.8,639.4 C988.7,634.6 989.7,629.3 990.7,624.5 C991.7,619.7 992.6,615.2 993.6,610.7 C994.6,606.2 995.5,601.6 996.5,597.5 C997.5,593.4 998.3,589.6 999.3,585.8 C1000.2,582.0 1001.2,578.3 1002.2,574.8 C1003.2,571.3 1004.1,568.0 1005.1,564.8 C1006.1,561.6 1007.0,558.4 1008.0,555.5 C1009.0,552.6 1009.8,550.0 1010.8,547.5 C1011.8,545.0 1012.7,542.7 1013.7,540.5 C1014.7,538.3 1015.8,535.6 1016.6,534.1 C1017.4,532.6 1018.4,531.8 1018.7,531.3" fill="none" stroke="#E8473F" stroke-width="2.8" stroke-linejoin="round" stroke-linecap="round" />
<path d="M912.0,820.5 C913.3,820.3 917.6,819.8 919.8,819.4 C922.0,819.0 923.5,818.7 925.0,818.2 C926.5,817.7 927.8,817.1 929.0,816.3 C930.2,815.5 931.1,814.5 932.0,813.4 C932.9,812.3 933.4,811.5 934.2,809.9 C935.0,808.3 936.0,806.1 937.0,804.0 C938.0,801.9 939.2,799.7 940.2,797.3 C941.2,794.9 942.1,792.5 943.0,789.5 C943.9,786.5 944.9,782.7 945.8,779.0 C946.6,775.3 947.1,772.5 948.1,767.5 C949.1,762.5 950.7,755.0 952.0,749.0 C953.3,743.0 954.6,736.7 955.8,731.2 C957.0,725.7 958.0,720.4 959.0,716.0 C960.0,711.6 961.1,708.0 962.0,704.8 C962.9,701.6 963.7,698.9 964.5,697.0 C965.3,695.1 966.0,694.0 966.7,693.3 C967.5,692.6 968.2,692.5 969.0,692.6 C969.8,692.7 970.5,692.9 971.3,694.0 C972.1,695.1 973.0,696.9 973.8,699.0 C974.6,701.1 975.1,703.5 976.0,706.4 C976.9,709.3 978.0,712.6 979.0,716.5 C980.0,720.4 981.0,724.4 982.2,729.6 C983.4,734.8 984.7,741.3 986.0,747.5 C987.3,753.7 988.7,760.9 989.9,766.8 C991.1,772.7 992.0,777.8 993.0,783.0 C994.0,788.2 994.9,793.5 996.1,797.8 C997.3,802.1 998.5,805.9 1000.0,809.0 C1001.5,812.1 1003.0,814.1 1004.8,816.2 C1006.6,818.3 1009.1,820.4 1011.0,821.5 C1012.9,822.6 1015.2,822.6 1016.0,822.8" fill="none" stroke="#2838E0" stroke-width="2.9" stroke-linejoin="round" stroke-linecap="round" />
<path d="M614.0,820.1 C614.9,820.0 618.2,820.1 619.6,819.2 C621.0,818.4 621.6,816.4 622.5,815.0 C623.4,813.6 624.2,812.5 625.2,810.8 C626.2,809.1 627.3,806.9 628.5,805.0 C629.7,803.1 631.2,801.3 632.6,799.7 C634.0,798.1 635.5,796.6 637.0,795.5 C638.5,794.4 640.4,793.5 641.9,793.1 C643.4,792.7 644.8,792.9 646.0,793.1 C647.2,793.3 648.2,793.7 649.4,794.1 C650.6,794.5 651.8,795.2 653.0,795.7 C654.2,796.2 655.5,797.0 656.8,796.9 C658.0,796.8 659.2,795.9 660.5,795.0 C661.8,794.1 663.0,793.3 664.3,791.3 C665.6,789.3 667.0,786.0 668.5,783.0 C670.0,780.0 671.9,776.9 673.6,773.6 C675.4,770.3 677.1,766.4 679.0,763.0 C680.9,759.6 682.9,756.4 684.8,753.1 C686.7,749.8 688.6,746.1 690.5,743.0 C692.4,739.9 694.4,736.4 695.9,734.5 C697.4,732.6 698.2,732.1 699.5,731.5 C700.8,730.9 702.0,731.0 703.4,730.8 C704.8,730.6 706.5,730.5 708.0,730.3 C709.5,730.1 711.0,730.1 712.7,729.8 C714.4,729.5 716.1,729.1 718.0,728.6 C719.9,728.1 722.4,727.1 723.9,727.0 C725.4,726.9 726.1,727.4 727.0,728.0 C727.9,728.6 728.7,729.7 729.5,730.8 C730.3,731.9 731.1,733.6 732.0,734.8 C732.9,736.0 733.9,737.2 735.0,738.2 C736.1,739.2 737.2,740.4 738.5,741.0 C739.8,741.6 741.2,742.1 742.5,741.9 C743.8,741.7 745.2,740.9 746.5,740.0 C747.8,739.1 748.5,738.5 750.0,736.4 C751.5,734.3 753.6,730.3 755.5,727.5 C757.4,724.7 759.3,721.8 761.1,719.6 C762.9,717.4 764.6,716.0 766.5,714.5 C768.4,713.0 770.4,712.0 772.3,710.3 C774.2,708.6 776.1,706.5 778.0,704.5 C779.9,702.5 782.1,698.9 783.5,698.2 C784.9,697.5 785.4,699.4 786.3,700.5 C787.2,701.6 788.1,703.0 789.0,704.7 C789.9,706.5 790.9,708.8 791.8,711.0 C792.7,713.2 793.6,715.4 794.6,717.7 C795.6,720.0 796.6,722.9 797.5,725.0 C798.4,727.1 799.3,729.0 800.2,730.3 C801.1,731.6 801.9,732.4 803.0,733.0 C804.1,733.6 805.6,733.8 806.8,733.8 C808.0,733.8 808.9,733.2 810.0,733.0 C811.1,732.8 812.4,732.3 813.7,732.7 C815.0,733.1 816.5,734.4 818.0,735.5 C819.5,736.6 821.3,738.2 822.8,739.5 C824.3,740.8 825.5,742.5 827.0,743.5 C828.5,744.5 830.3,745.2 831.9,745.2 C833.5,745.2 835.0,744.3 836.5,743.5 C838.0,742.7 839.5,741.7 841.0,740.6 C842.5,739.5 844.0,738.0 845.5,737.0 C847.0,736.0 848.6,734.3 850.1,734.9 C851.6,735.5 853.0,738.0 854.5,740.5 C856.0,743.0 857.7,746.6 859.2,749.7 C860.7,752.8 862.0,756.0 863.5,759.0 C865.0,762.0 866.8,765.5 868.3,767.9 C869.8,770.3 871.0,772.0 872.5,773.5 C874.0,775.0 875.5,777.0 877.4,777.0 C879.3,777.0 881.7,774.6 884.0,773.5 C886.3,772.4 888.7,771.6 891.0,770.2 C893.3,768.8 896.0,766.1 898.0,765.0 C900.0,763.9 901.6,763.7 903.0,763.5 C904.4,763.3 905.0,763.2 906.2,764.0 C907.4,764.8 908.5,766.7 910.0,768.5 C911.5,770.3 914.0,772.9 915.5,774.6 C917.0,776.4 917.7,777.7 919.0,779.0 C920.3,780.3 922.0,782.0 923.3,782.3 C924.6,782.5 925.7,781.3 927.0,780.5 C928.3,779.7 929.6,778.6 931.0,777.7 C932.4,776.8 934.0,775.9 935.5,775.0 C937.0,774.1 939.1,774.0 940.3,772.2 C941.5,770.4 941.7,768.5 942.5,764.0 C943.3,759.5 944.1,752.0 945.0,745.0 C945.9,738.0 946.9,729.8 948.0,722.0 C949.1,714.2 950.3,706.0 951.5,698.0 C952.7,690.0 953.8,681.7 955.0,674.0 C956.2,666.3 957.3,658.8 958.5,652.0 C959.7,645.2 960.8,638.7 962.0,633.0 C963.2,627.3 964.3,622.0 965.5,618.0 C966.7,614.0 967.8,611.0 969.0,609.0 C970.2,607.0 971.3,606.3 972.5,605.9 C973.7,605.5 974.7,606.0 976.0,606.5 C977.3,607.0 978.9,608.0 980.2,608.8 C981.5,609.6 982.7,610.7 984.0,611.5 C985.3,612.3 986.7,613.4 987.8,613.6 C988.9,613.8 989.7,613.5 990.5,612.8 C991.3,612.1 992.0,611.1 992.8,609.5 C993.5,607.9 994.2,605.8 995.0,603.0 C995.8,600.2 996.5,596.8 997.5,592.5 C998.5,588.2 999.7,582.1 1000.7,577.0 C1001.7,571.9 1002.5,566.6 1003.5,562.0 C1004.5,557.4 1005.6,553.2 1006.4,549.2 C1007.2,545.2 1007.7,541.1 1008.3,538.0 C1008.9,534.9 1009.2,532.6 1009.8,530.5 C1010.4,528.4 1011.4,526.5 1012.1,525.3 C1012.8,524.1 1013.3,523.7 1014.0,523.3 C1014.7,522.9 1015.4,522.7 1016.1,522.8 C1016.8,522.9 1017.4,523.4 1018.0,524.0 C1018.6,524.6 1018.8,524.5 1019.5,526.4 C1020.2,528.3 1021.2,531.7 1022.3,535.5 C1023.3,539.3 1024.5,544.1 1025.8,549.2 C1027.1,554.3 1028.8,560.6 1030.3,566.3 C1031.8,572.0 1033.4,577.6 1034.9,583.3 C1036.4,589.0 1038.1,595.9 1039.4,600.4 C1040.7,604.9 1041.5,607.2 1042.8,610.5 C1044.0,613.8 1045.5,615.8 1046.9,620.0 C1048.3,624.2 1049.8,630.3 1051.3,635.5 C1052.8,640.7 1054.4,645.8 1055.7,651.0 C1057.0,656.2 1057.9,661.3 1059.0,666.5 C1060.1,671.7 1061.2,676.4 1062.4,682.0 C1063.6,687.6 1064.9,694.0 1066.2,700.0 C1067.5,706.0 1069.2,713.5 1070.2,718.3 C1071.2,723.1 1071.5,725.3 1072.4,728.6 C1073.3,731.9 1074.5,734.9 1075.5,738.0 C1076.5,741.1 1077.5,744.3 1078.6,747.2 C1079.7,750.1 1081.0,752.8 1082.3,755.5 C1083.5,758.2 1084.8,761.0 1086.1,763.3 C1087.3,765.6 1088.6,767.4 1089.8,769.3 C1091.0,771.2 1092.3,773.0 1093.5,774.5 C1094.7,776.0 1096.0,777.1 1097.2,778.0 C1098.5,778.9 1099.9,779.6 1101.0,780.1 C1102.1,780.6 1103.0,781.0 1104.0,781.3 C1105.0,781.6 1106.1,781.5 1107.1,782.0 C1108.0,782.5 1108.9,783.2 1109.7,784.0 C1110.5,784.8 1111.2,785.7 1112.1,786.9 C1113.0,788.1 1114.1,789.5 1115.0,791.0 C1115.9,792.5 1116.9,794.3 1117.7,795.6 C1118.5,796.9 1119.5,798.4 1119.8,799.0" fill="none" stroke="#E0A935" stroke-width="3.2" stroke-linejoin="round" stroke-linecap="round" />
<path d="M614.0,812.7 C617.1,812.1 626.4,810.5 632.6,809.0 C638.8,807.5 645.0,805.9 651.2,803.4 C657.4,800.9 663.7,798.1 669.9,794.1 C676.1,790.1 682.3,785.1 688.5,779.2 C694.7,773.3 700.9,765.5 707.1,758.7 C713.3,751.9 719.5,744.7 725.7,738.2 C731.9,731.7 738.2,724.9 744.4,719.6 C750.6,714.3 757.9,709.5 763.0,706.6 C768.1,703.8 771.5,703.4 775.0,702.5 C778.5,701.6 781.2,701.3 784.0,701.2 C786.8,701.1 789.3,701.3 792.0,701.8 C794.7,702.3 797.0,702.7 800.2,704.2 C803.4,705.7 807.2,708.4 811.0,711.0 C814.8,713.6 819.0,716.4 822.8,720.1 C826.6,723.8 830.2,728.5 834.0,733.0 C837.8,737.5 841.7,742.8 845.5,747.4 C849.3,752.0 853.2,756.3 857.0,760.5 C860.8,764.7 864.5,768.8 868.3,772.5 C872.1,776.2 876.2,779.5 880.0,782.5 C883.8,785.5 887.7,788.4 891.0,790.7 C894.3,793.0 896.4,794.3 900.0,796.3 C903.6,798.3 909.4,801.3 912.4,802.5 C915.4,803.7 916.2,803.5 918.0,803.7 C919.8,804.0 921.8,804.1 923.3,804.0 C924.8,803.9 925.7,803.5 927.0,803.0 C928.3,802.5 929.7,802.1 931.0,800.9 C932.3,799.7 933.7,798.1 935.0,796.0 C936.3,793.9 937.8,791.3 938.8,788.5 C939.8,785.7 940.4,782.6 941.2,779.0 C942.0,775.4 942.6,771.6 943.4,766.8 C944.2,762.0 945.0,755.4 945.8,750.0 C946.6,744.6 947.3,739.5 948.1,734.3 C948.9,729.0 949.6,723.7 950.4,718.5 C951.2,713.3 951.8,709.0 952.7,703.3 C953.6,697.5 954.7,690.5 955.8,684.0 C956.9,677.5 958.1,670.8 959.1,664.3 C960.1,657.8 961.0,651.1 962.0,645.0 C963.0,638.9 963.9,632.7 964.9,627.9 C965.9,623.1 966.8,619.2 967.8,616.0 C968.8,612.8 969.5,610.7 970.6,608.8 C971.7,606.9 973.2,605.2 974.4,604.6 C975.5,604.0 976.5,604.7 977.5,604.9 C978.5,605.1 979.3,605.6 980.2,605.9 C981.1,606.2 982.0,606.6 983.0,606.8 C984.0,607.0 984.9,607.3 985.9,606.9 C986.9,606.5 987.8,605.6 988.8,604.5 C989.8,603.4 990.8,602.2 991.7,600.1 C992.7,598.0 993.5,595.2 994.5,592.0 C995.5,588.8 996.5,584.8 997.5,581.0 C998.5,577.2 999.7,572.8 1000.7,569.0 C1001.7,565.2 1002.5,561.8 1003.5,558.5 C1004.5,555.2 1005.4,551.9 1006.4,549.2 C1007.4,546.5 1008.2,544.4 1009.2,542.5 C1010.2,540.6 1011.1,539.4 1012.1,537.8 C1013.1,536.2 1014.4,534.2 1015.5,533.0 C1016.6,531.8 1017.9,530.9 1018.9,530.6 C1019.9,530.3 1020.8,530.6 1021.8,531.2 C1022.8,531.8 1023.7,533.2 1024.6,534.4 C1025.5,535.6 1026.2,537.0 1027.0,538.5 C1027.8,540.0 1028.5,541.6 1029.2,543.5 C1030.0,545.4 1030.8,547.7 1031.5,550.0 C1032.2,552.3 1033.0,554.7 1033.7,557.1 C1034.5,559.5 1035.2,561.9 1036.0,564.5 C1036.8,567.1 1037.5,569.5 1038.3,572.5 C1039.1,575.5 1039.8,578.8 1040.6,582.5 C1041.3,586.2 1041.9,588.9 1042.8,594.7 C1043.7,600.5 1044.9,611.0 1045.9,617.5 C1046.9,624.0 1047.8,628.4 1048.7,634.0 C1049.7,639.6 1050.7,645.5 1051.6,651.0 C1052.5,656.5 1053.3,661.8 1054.2,667.0 C1055.1,672.2 1055.8,677.0 1056.7,682.0 C1057.6,687.0 1058.6,692.3 1059.6,697.0 C1060.6,701.7 1061.4,704.7 1062.5,710.0 C1063.6,715.3 1064.8,722.0 1066.2,728.6 C1067.7,735.2 1069.3,742.9 1071.2,749.7 C1073.1,756.5 1075.1,763.4 1077.4,769.6 C1079.7,775.8 1082.3,781.7 1084.8,786.9 C1087.3,792.1 1089.6,796.5 1092.3,800.6 C1095.0,804.7 1098.0,808.6 1100.9,811.7 C1103.8,814.8 1107.2,817.5 1109.6,819.2 C1111.9,820.9 1113.2,821.1 1115.0,821.8 C1116.8,822.5 1119.6,823.2 1120.5,823.5" fill="none" stroke="#7B4F4D" stroke-width="3.1" stroke-linejoin="round" stroke-linecap="round" />
<text x="40.5" y="447.6" font-family="Liberation Serif" font-weight="bold" font-size="23" text-anchor="middle">1200</text>
<line x1="125.0" y1="413.0" x2="125.0" y2="421.0" stroke="#1a1a1a" stroke-width="1.4"/>
<text x="125.0" y="447.6" font-family="Liberation Serif" font-weight="bold" font-size="23" text-anchor="middle">1000</text>
<line x1="209.5" y1="413.0" x2="209.5" y2="421.0" stroke="#1a1a1a" stroke-width="1.4"/>
<text x="209.5" y="447.6" font-family="Liberation Serif" font-weight="bold" font-size="23" text-anchor="middle">800</text>
<line x1="294.0" y1="413.0" x2="294.0" y2="421.0" stroke="#1a1a1a" stroke-width="1.4"/>
<text x="294.0" y="447.6" font-family="Liberation Serif" font-weight="bold" font-size="23" text-anchor="middle">600</text>
<line x1="378.5" y1="413.0" x2="378.5" y2="421.0" stroke="#1a1a1a" stroke-width="1.4"/>
<text x="378.5" y="447.6" font-family="Liberation Serif" font-weight="bold" font-size="23" text-anchor="middle">400</text>
<line x1="463.0" y1="413.0" x2="463.0" y2="421.0" stroke="#1a1a1a" stroke-width="1.4"/>
<text x="463.0" y="447.6" font-family="Liberation Serif" font-weight="bold" font-size="23" text-anchor="middle">200</text>
<text x="547.5" y="447.6" font-family="Liberation Serif" font-weight="bold" font-size="23" text-anchor="middle">0</text>
<text x="283.8" y="473.8" font-family="Liberation Serif" font-weight="bold" font-size="23" text-anchor="middle">Binding Energy/eV</text>
<text transform="translate(29.8,209) rotate(-90)" x="0" y="0" font-family="Liberation Serif" font-weight="bold" font-size="23" text-anchor="middle">Intensity/a.u.</text>
<line x1="652.7" y1="412.5" x2="652.7" y2="420.5" stroke="#1a1a1a" stroke-width="1.4"/>
<text x="652.7" y="447.3" font-family="Liberation Serif" font-weight="bold" font-size="23" text-anchor="middle">885</text>
<line x1="717.8" y1="412.5" x2="717.8" y2="420.5" stroke="#1a1a1a" stroke-width="1.4"/>
<text x="717.8" y="447.3" font-family="Liberation Serif" font-weight="bold" font-size="23" text-anchor="middle">880</text>
<line x1="782.9" y1="412.5" x2="782.9" y2="420.5" stroke="#1a1a1a" stroke-width="1.4"/>
<text x="782.9" y="447.3" font-family="Liberation Serif" font-weight="bold" font-size="23" text-anchor="middle">875</text>
<line x1="848.0" y1="412.5" x2="848.0" y2="420.5" stroke="#1a1a1a" stroke-width="1.4"/>
<text x="848.0" y="447.3" font-family="Liberation Serif" font-weight="bold" font-size="23" text-anchor="middle">870</text>
<line x1="913.1" y1="412.5" x2="913.1" y2="420.5" stroke="#1a1a1a" stroke-width="1.4"/>
<text x="913.1" y="447.3" font-family="Liberation Serif" font-weight="bold" font-size="23" text-anchor="middle">865</text>
<line x1="978.2" y1="412.5" x2="978.2" y2="420.5" stroke="#1a1a1a" stroke-width="1.4"/>
<text x="978.2" y="447.3" font-family="Liberation Serif" font-weight="bold" font-size="23" text-anchor="middle">860</text>
<line x1="1043.3" y1="412.5" x2="1043.3" y2="420.5" stroke="#1a1a1a" stroke-width="1.4"/>
<text x="1043.3" y="447.3" font-family="Liberation Serif" font-weight="bold" font-size="23" text-anchor="middle">855</text>
<line x1="1108.4" y1="412.5" x2="1108.4" y2="420.5" stroke="#1a1a1a" stroke-width="1.4"/>
<text x="1108.4" y="447.3" font-family="Liberation Serif" font-weight="bold" font-size="23" text-anchor="middle">850</text>
<text x="866.3" y="471.0" font-family="Liberation Serif" font-weight="bold" font-size="23" text-anchor="middle">Binding Energy/eV</text>
<text transform="translate(603.9,208.5) rotate(-90)" x="0" y="0" font-family="Liberation Serif" font-weight="bold" font-size="23" text-anchor="middle">Intensity/a.u.</text>
<text x="35.0" y="930.8" font-family="Liberation Serif" font-weight="bold" font-size="23" text-anchor="middle">538</text>
<line x1="119.4" y1="895.7" x2="119.4" y2="903.7" stroke="#1a1a1a" stroke-width="1.4"/>
<text x="119.4" y="930.8" font-family="Liberation Serif" font-weight="bold" font-size="23" text-anchor="middle">536</text>
<line x1="203.8" y1="895.7" x2="203.8" y2="903.7" stroke="#1a1a1a" stroke-width="1.4"/>
<text x="203.8" y="930.8" font-family="Liberation Serif" font-weight="bold" font-size="23" text-anchor="middle">534</text>
<line x1="288.1" y1="895.7" x2="288.1" y2="903.7" stroke="#1a1a1a" stroke-width="1.4"/>
<text x="288.1" y="930.8" font-family="Liberation Serif" font-weight="bold" font-size="23" text-anchor="middle">532</text>
<line x1="372.5" y1="895.7" x2="372.5" y2="903.7" stroke="#1a1a1a" stroke-width="1.4"/>
<text x="372.5" y="930.8" font-family="Liberation Serif" font-weight="bold" font-size="23" text-anchor="middle">530</text>
<line x1="456.9" y1="895.7" x2="456.9" y2="903.7" stroke="#1a1a1a" stroke-width="1.4"/>
<text x="456.9" y="930.8" font-family="Liberation Serif" font-weight="bold" font-size="23" text-anchor="middle">528</text>
<text x="541.3" y="930.8" font-family="Liberation Serif" font-weight="bold" font-size="23" text-anchor="middle">526</text>
<text x="287.7" y="954.8" font-family="Liberation Serif" font-weight="bold" font-size="23" text-anchor="middle">Binding Energy/eV</text>
<text transform="translate(24.8,692.6) rotate(-90)" x="0" y="0" font-family="Liberation Serif" font-weight="bold" font-size="23" text-anchor="middle">Intensity/a.u.</text>
<text x="614.0" y="930.0" font-family="Liberation Serif" font-weight="bold" font-size="23" text-anchor="middle">172</text>
<line x1="698.5" y1="895.0" x2="698.5" y2="903.0" stroke="#1a1a1a" stroke-width="1.4"/>
<text x="698.5" y="930.0" font-family="Liberation Serif" font-weight="bold" font-size="23" text-anchor="middle">170</text>
<line x1="783.0" y1="895.0" x2="783.0" y2="903.0" stroke="#1a1a1a" stroke-width="1.4"/>
<text x="783.0" y="930.0" font-family="Liberation Serif" font-weight="bold" font-size="23" text-anchor="middle">168</text>
<line x1="867.5" y1="895.0" x2="867.5" y2="903.0" stroke="#1a1a1a" stroke-width="1.4"/>
<text x="867.5" y="930.0" font-family="Liberation Serif" font-weight="bold" font-size="23" text-anchor="middle">166</text>
<line x1="952.0" y1="895.0" x2="952.0" y2="903.0" stroke="#1a1a1a" stroke-width="1.4"/>
<text x="952.0" y="930.0" font-family="Liberation Serif" font-weight="bold" font-size="23" text-anchor="middle">164</text>
<line x1="1036.5" y1="895.0" x2="1036.5" y2="903.0" stroke="#1a1a1a" stroke-width="1.4"/>
<text x="1036.5" y="930.0" font-family="Liberation Serif" font-weight="bold" font-size="23" text-anchor="middle">162</text>
<text x="1121.0" y="930.0" font-family="Liberation Serif" font-weight="bold" font-size="23" text-anchor="middle">160</text>
<text x="866.7" y="953.8" font-family="Liberation Serif" font-weight="bold" font-size="23" text-anchor="middle">Binding Energy/eV</text>
<text transform="translate(604.7,691.7) rotate(-90)" x="0" y="0" font-family="Liberation Serif" font-weight="bold" font-size="23" text-anchor="middle">Intensity/a.u.</text>
<text x="42.3" y="38" font-family="Liberation Serif" font-size="35.5">(a)</text>
<text x="538.6" y="44.6" font-family="Liberation Serif" font-size="35" text-anchor="end">Survey</text>
<text x="613.8" y="42.2" font-family="Liberation Serif" font-size="35.5">(b)</text>
<text x="684" y="47.1" font-family="Liberation Serif" font-size="34.5">Ni 2p</text>
<text x="35.6" y="526.6" font-family="Liberation Serif" font-size="36">(c)</text>
<text x="534" y="531.6" font-family="Liberation Serif" font-size="36.5" text-anchor="end">O 1s</text>
<text x="614" y="526.4" font-family="Liberation Serif" font-size="36">(d)</text>
<text x="692.6" y="529.4" font-family="Liberation Serif" font-size="35.5">S 2p</text>
<text x="173.6" y="41.2" font-family="Liberation Serif" font-weight="bold" font-size="22" text-anchor="start">Ni 2p</text>
<text x="306" y="67.4" font-family="Liberation Serif" font-weight="bold" font-size="22" text-anchor="start">O 1s</text>
<text x="407" y="278.4" font-family="Liberation Serif" font-weight="bold" font-size="22" text-anchor="start">C 1s</text>
<text x="456.3" y="327.9" font-family="Liberation Serif" font-weight="bold" font-size="22" text-anchor="start">S 2p</text>
<text x="719" y="185.2" font-family="Liberation Serif" font-weight="bold" font-size="23" fill="#000" text-anchor="start" textLength="38" lengthAdjust="spacingAndGlyphs">Sat.</text>
<text x="948" y="189.1" font-family="Liberation Serif" font-weight="bold" font-size="23" fill="#000" text-anchor="start" textLength="37" lengthAdjust="spacingAndGlyphs">Sat.</text>
<text x="788.6" y="141.8" font-family="Liberation Serif" font-weight="bold" font-size="23" fill="#000" text-anchor="start" textLength="25.2" lengthAdjust="spacingAndGlyphs">2P</text>
<text x="816.0000000000001" y="147.70000000000002" font-family="Liberation Serif" font-weight="bold" font-size="23" fill="#000" text-anchor="start" textLength="26.5" lengthAdjust="spacingAndGlyphs">1/2</text>
<text x="1026.2" y="41.9" font-family="Liberation Serif" font-weight="bold" font-size="23" fill="#000" text-anchor="start" textLength="26" lengthAdjust="spacingAndGlyphs">2P</text>
<text x="1052.7" y="48.0" font-family="Liberation Serif" font-weight="bold" font-size="23" fill="#000" text-anchor="start" textLength="29" lengthAdjust="spacingAndGlyphs">3/2</text>
<text x="793.6" y="206.7" font-family="Liberation Sans" font-weight="normal" font-size="20.5" fill="#333" text-anchor="start" textLength="20" lengthAdjust="spacingAndGlyphs">+2</text>
<text x="770.6" y="244.5" font-family="Liberation Sans" font-weight="normal" font-size="18" fill="#333" text-anchor="start" textLength="17" lengthAdjust="spacingAndGlyphs">+3</text>
<text x="1022.6" y="105.6" font-family="Liberation Sans" font-weight="normal" font-size="18.5" fill="#333" text-anchor="start" textLength="19.5" lengthAdjust="spacingAndGlyphs">+2</text>
<text x="999.3" y="266.9" font-family="Liberation Sans" font-weight="normal" font-size="19" fill="#333" text-anchor="start" textLength="20.5" lengthAdjust="spacingAndGlyphs">+3</text>
<text x="282" y="807.1" font-family="Liberation Serif" font-weight="bold" font-size="22" fill="#000" text-anchor="start" textLength="65" lengthAdjust="spacingAndGlyphs">M-OH</text>
<text x="305" y="528.8" font-family="Liberation Serif" font-weight="bold" font-size="22" fill="#000" text-anchor="start" textLength="43.8" lengthAdjust="spacingAndGlyphs">O 1s</text>
<text x="760.6" y="690.7" font-family="Liberation Serif" font-weight="bold" font-size="23" fill="#000" text-anchor="start" textLength="37.5" lengthAdjust="spacingAndGlyphs">Sat.</text>
<text x="950.6" y="682.4" font-family="Liberation Serif" font-weight="bold" font-size="23" fill="#000" text-anchor="start" textLength="25.5" lengthAdjust="spacingAndGlyphs">2P</text>
<text x="977.4" y="687.8" font-family="Liberation Serif" font-weight="bold" font-size="23" fill="#000" text-anchor="start" textLength="27.5" lengthAdjust="spacingAndGlyphs">1/2</text>
<text x="994.2" y="519.9" font-family="Liberation Serif" font-weight="bold" font-size="23" fill="#000" text-anchor="start" textLength="25.3" lengthAdjust="spacingAndGlyphs">2P</text>
<text x="1020.0" y="525.8" font-family="Liberation Serif" font-weight="bold" font-size="23" fill="#000" text-anchor="start" textLength="28.3" lengthAdjust="spacingAndGlyphs">3/2</text>
<rect x="40.5" y="12" width="507.0" height="409.0" fill="none" stroke="#1a1a1a" stroke-width="1.5"/>
<rect x="614" y="12" width="507.0" height="408.5" fill="none" stroke="#1a1a1a" stroke-width="1.5"/>
<rect x="35" y="495" width="506.3" height="408.7" fill="none" stroke="#1a1a1a" stroke-width="1.5"/>
<rect x="614" y="494.5" width="507.0" height="408.5" fill="none" stroke="#1a1a1a" stroke-width="1.5"/>
</svg>
</body></html>
